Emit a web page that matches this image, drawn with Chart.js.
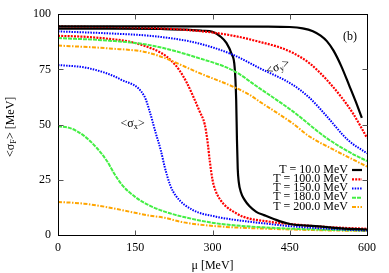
<!DOCTYPE html>
<html><head><meta charset="utf-8">
<script src="https://cdn.jsdelivr.net/npm/chart.js@4/dist/chart.umd.min.js"></script>
<style>html,body{margin:0;padding:0;background:#fff}#wrap{width:389px;height:273px}</style>
</head><body><div id="wrap"><canvas id="c" width="389" height="273"></canvas></div>
<script>
// ---- data ----
const seriesLabels = ['T = 10.0 MeV','T = 100.0 MeV','T = 150.0 MeV','T = 180.0 MeV','T = 200.0 MeV'];
const xTickValues = [0,150,300,450,600];
const yTickValues = [0,25,50,75,100];

// <sigma_y> curves
const muT10y  = [0,200,400,450,475,495,510,522,535,550,565,578,590];
const sigT10y = [94.5,94.5,94.4,94.2,93.6,92.3,90.3,87.8,83.5,76.5,68,60.5,53];
const muT100y  = [0,200,300,350,391,430,456,490,521,550,573,600];
const sigT100y = [94.5,93.6,91.7,89.8,87.5,85,82.5,77.5,70.5,62.5,55,44];
const muT150y  = [0,100,188,269,340,391,456,489,521,563,600];
const sigT150y = [92.2,91.3,90,87,81.6,75.6,68,62,54,43,37];
const muT180y  = [0,100,178,275,340,391,456,521,566,600];
const sigT180y = [89.2,88,86,80,74.5,66.5,56,44,37.5,33.5];
const muT200y  = [0,100,178,275,372,391,456,489,528,566,600];
const sigT200y = [85.8,84.5,82.4,73.3,63.5,60.5,50.5,44.5,39.5,35,31];

// <sigma_x> curves
const muT10x  = [0,100,200,250,280,300,315,327,337,343,346,347.5,349,351,355,362,372,385,400,430,450,500,550,600];
const sigT10x = [93.5,93.5,93.3,93,92.5,92,90,87,82,76,61,43,30,24,19.5,16,13,10.5,9,6.3,5,4,3,2.5];
const muT100x  = [0,50,100,140,170,200,220,236,250,262,275,285,290,295,300,306,315,327,345,359,411,450,500,550,600];
const sigT100x = [90.2,89.8,88.8,87.5,85.5,82.5,79,74.5,69,63,56,50,43,33,25,20,16,12.8,10,8.3,6,5,4,3.3,2.8];
const muT150x  = [0,58,123,168,178,190,200,207,218,230,262,307,372,411,450,500,550,600];
const sigT150x = [77,75.6,70.3,62.7,56,46,38,31,22.5,17.4,11.3,8.3,6,5,4,3.2,2.5,2];
const muT180x  = [0,25,50,75,95,110,125,149,178,207,242,307,411,500,600];
const sigT180x = [49.3,48.3,45,39.5,33.5,27.5,22.5,17.4,13.3,10.6,8.3,5.3,3.3,2.5,2];
const muT200x  = [0,50,91,155,178,207,242,307,411,500,600];
const sigT200x = [15,14.2,12.8,9.8,8.8,7.8,5.8,4,2.8,2.2,1.8];

// ---- styles ----
const colors = ['#000000','#ff0000','#0000ff','#44ee44','#ffa500'];
const dashes = [[],[2,1.2],[1.5,1.2],[4,1],[4,1.5,1.5,1.5]];
const widths = [2.2,2.2,2,2,2];

function pts(mu, s){ return mu.map((m,i)=>({x:m,y:s[i]})); }
const curves = [
  [muT10y,sigT10y,0],[muT100y,sigT100y,1],[muT150y,sigT150y,2],[muT180y,sigT180y,3],[muT200y,sigT200y,4],
  [muT10x,sigT10x,0],[muT100x,sigT100x,1],[muT150x,sigT150x,2],[muT180x,sigT180x,3],[muT200x,sigT200x,4]
];
const datasets = curves.map(([m,s,k])=>({
  label: seriesLabels[k],
  data: pts(m,s),
  borderColor: colors[k],
  borderWidth: widths[k],
  borderDash: dashes[k],
  pointRadius: 0,
  fill: false,
  cubicInterpolationMode: 'monotone'
}));

const FONT = '"Liberation Serif","DejaVu Serif",serif';

function drawParts(ctx, parts, x, y, size, align){
  let w = 0;
  const ws = parts.map(([t,sub])=>{ctx.font=(sub?size*0.7:size)+'px '+FONT; const v=ctx.measureText(t).width; w+=v; return v;});
  let cx = align==='center' ? x - w/2 : (align==='right' ? x - w : x);
  parts.forEach(([t,sub],i)=>{
    ctx.font=(sub?size*0.7:size)+'px '+FONT;
    ctx.fillText(t, cx, sub ? y + size*0.25 : y);
    cx += ws[i];
  });
}

const framePlugin = {
  id: 'frame',
  afterDraw(chart){
    const ctx = chart.ctx, a = chart.chartArea;
    const xs = chart.scales.x, ys = chart.scales.y;
    ctx.save();
    ctx.strokeStyle = '#000'; ctx.lineWidth = 1; ctx.setLineDash([]);
    const L=Math.round(a.left)+0.5, R=Math.round(a.right)+0.5, T=Math.round(a.top)+0.5, B=Math.round(a.bottom)+0.5;
    ctx.strokeRect(L, T, R-L, B-T);
    ctx.strokeStyle = '#555';
    const tl = 5;
    xTickValues.slice(1,-1).forEach(v=>{
      const px = Math.round(xs.getPixelForValue(v))+0.5;
      ctx.beginPath(); ctx.moveTo(px,B); ctx.lineTo(px,B-tl); ctx.moveTo(px,T); ctx.lineTo(px,T+tl); ctx.stroke();
    });
    yTickValues.slice(1,-1).forEach(v=>{
      const py = Math.round(ys.getPixelForValue(v))+0.5;
      ctx.beginPath(); ctx.moveTo(L,py); ctx.lineTo(L+tl,py); ctx.moveTo(R,py); ctx.lineTo(R-tl,py); ctx.stroke();
    });
    ctx.fillStyle = '#000';
    ctx.textBaseline = 'middle';
    ctx.textAlign = 'left';
    // x axis title
    drawParts(ctx, [['μ [MeV]',false]], xs.getPixelForValue(300), 266, 12, 'center');
    // y axis title
    ctx.save();
    ctx.translate(11, ys.getPixelForValue(49));
    ctx.rotate(-Math.PI/2);
    drawParts(ctx, [['<σ',false],['F',true],['> [MeV]',false]], 0, 0, 12, 'center');
    ctx.restore();
    // panel label
    drawParts(ctx, [['(b)',false]], 350, 37, 12, 'center');
    // curve labels
    drawParts(ctx, [['<σ',false],['x',true],['>',false]], xs.getPixelForValue(145), ys.getPixelForValue(50.5), 12, 'center');
    ctx.save();
    ctx.translate(xs.getPixelForValue(427), ys.getPixelForValue(76));
    ctx.rotate(-22*Math.PI/180);
    drawParts(ctx, [['<σ',false],['y',true],['>',false]], 0, 0, 12, 'center');
    ctx.restore();
    // legend
    const rowY = [169.5,178.8,188,197.3,206.6];
    seriesLabels.forEach((lab,i)=>{
      drawParts(ctx, [[lab,false]], 348, rowY[i], 12, 'right');
      ctx.beginPath();
      ctx.strokeStyle = colors[i]; ctx.lineWidth = widths[i]; ctx.setLineDash(dashes[i]);
      ctx.moveTo(352, rowY[i]+0.5); ctx.lineTo(362, rowY[i]+0.5); ctx.stroke();
    });
    ctx.restore();
  }
};

new Chart(document.getElementById('c'), {
  type: 'line',
  data: { datasets },
  options: {
    responsive: false,
    animation: false,
    devicePixelRatio: 1,
    layout: { padding: { top: 14, right: 22, left: 0, bottom: 0 } },
    plugins: { legend: { display: false }, tooltip: { enabled: false } },
    scales: {
      x: {
        type: 'linear', min: 0, max: 600,
        afterBuildTicks: s => { s.ticks = xTickValues.map(v=>({value:v})); },
        afterFit: s => { s.height = 38; },
        grid: { display: false, drawTicks: false },
        border: { display: false },
        ticks: { color: '#000', padding: 6, maxRotation: 0, font: { family: FONT, size: 12 } }
      },
      y: {
        type: 'linear', min: 0, max: 100,
        afterBuildTicks: s => { s.ticks = yTickValues.map(v=>({value:v})); },
        afterFit: s => { s.width = 58; },
        grid: { display: false, drawTicks: false },
        border: { display: false },
        ticks: { color: '#000', padding: 7, font: { family: FONT, size: 12 } }
      }
    }
  },
  plugins: [framePlugin]
});
</script></body></html>
